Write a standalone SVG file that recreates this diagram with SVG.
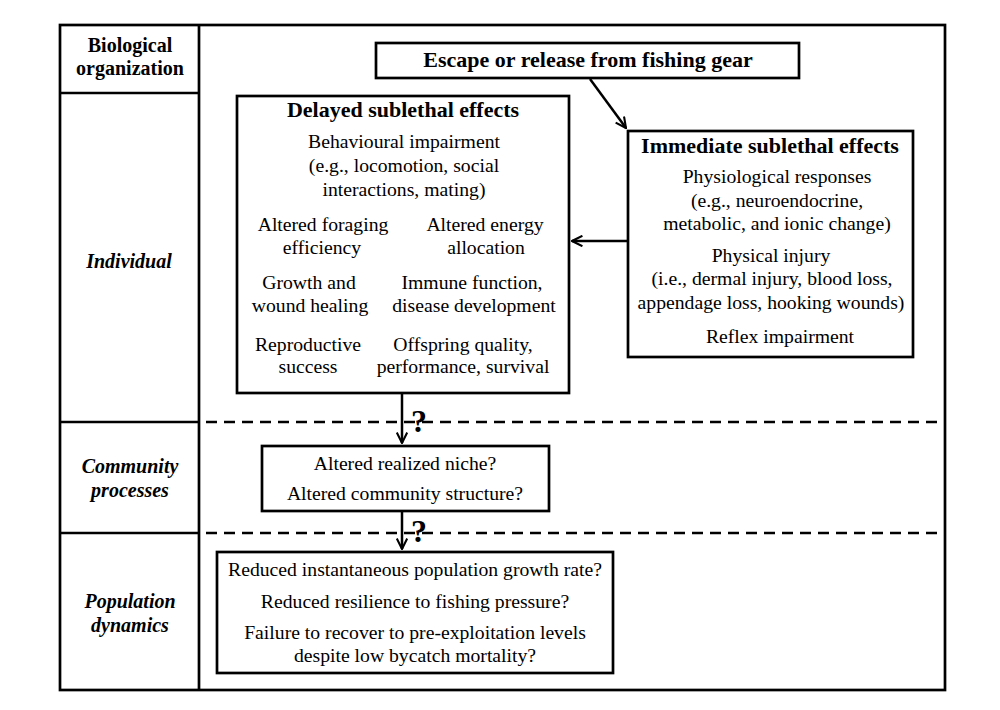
<svg xmlns="http://www.w3.org/2000/svg" width="1000" height="710" viewBox="0 0 1000 710">
<defs>
<style>
text{font-family:"Liberation Serif","Times New Roman",serif;fill:#000;text-anchor:middle}
.b{font-size:19.7px}
.t{font-size:22px;font-weight:bold}
.lab{font-size:20px;font-weight:bold}
.it{font-style:italic}
.q{font-size:32px;font-weight:bold;text-anchor:start}
.box{fill:#fff;stroke:#000;stroke-width:2.7}
.ln{stroke:#000;stroke-width:2.7;fill:none}
.dash{stroke:#000;stroke-width:2.7;stroke-dasharray:11 7;fill:none}
.arr{stroke:#000;stroke-width:2.5;fill:none;marker-end:url(#ah)}
</style>
<marker id="ah" viewBox="0 0 12 12" refX="11" refY="6" markerWidth="5" markerHeight="5" orient="auto" markerUnits="strokeWidth">
<path d="M1,1 L11,6 L1,11" fill="none" stroke="#000" stroke-width="2"/>
</marker>
</defs>
<rect width="1000" height="710" fill="#fff"/>
<g id="frame">
<rect x="60" y="25" width="885" height="665" class="ln"/>
<line x1="199" y1="25" x2="199" y2="690" class="ln"/>
<line x1="60" y1="93" x2="199" y2="93" class="ln"/>
<line x1="60" y1="422" x2="199" y2="422" class="ln"/>
<line x1="60" y1="533" x2="199" y2="533" class="ln"/>
<line x1="206" y1="422" x2="945" y2="422" class="dash"/>
<line x1="206" y1="533" x2="945" y2="533" class="dash"/>
</g>
<g id="labels">
<text class="lab" x="130" y="52">Biological</text>
<text class="lab" x="130" y="75">organization</text>
<text class="lab it" x="129" y="268">Individual</text>
<text class="lab it" x="130" y="473">Community</text>
<text class="lab it" x="130" y="497">processes</text>
<text class="lab it" x="130" y="608">Population</text>
<text class="lab it" x="130" y="632">dynamics</text>
</g>
<g id="connectors">
<line x1="590" y1="79" x2="626" y2="128" class="arr"/>
<line x1="628" y1="241" x2="572" y2="241" class="arr"/>
<line x1="402" y1="393" x2="402" y2="443" class="arr"/>
<line x1="402" y1="511" x2="402" y2="549" class="arr"/>
<text class="q" x="411" y="432">?</text>
<text class="q" x="411" y="542">?</text>
</g>
<g id="escape">
<rect x="376" y="43" width="423" height="35" class="box"/>
<text class="t" x="588" y="67">Escape or release from fishing gear</text>
</g>
<g id="delayed">
<rect x="237" y="96" width="332" height="297" class="box"/>
<text class="t" x="403" y="117">Delayed sublethal effects</text>
<text class="b" x="404" y="148">Behavioural impairment</text>
<text class="b" x="404" y="172">(e.g., locomotion, social</text>
<text class="b" x="404" y="196">interactions, mating)</text>
<text class="b" x="323" y="231">Altered foraging</text>
<text class="b" x="322" y="254">efficiency</text>
<text class="b" x="485" y="231">Altered energy</text>
<text class="b" x="486" y="254">allocation</text>
<text class="b" x="309" y="289">Growth and</text>
<text class="b" x="310" y="312">wound healing</text>
<text class="b" x="472" y="289">Immune function,</text>
<text class="b" x="474" y="312">disease development</text>
<text class="b" x="308" y="351">Reproductive</text>
<text class="b" x="308" y="373">success</text>
<text class="b" x="463" y="351">Offspring quality,</text>
<text class="b" x="463" y="373">performance, survival</text>
</g>
<g id="immediate">
<rect x="628" y="131" width="285" height="226" class="box"/>
<text class="t" x="770" y="153">Immediate sublethal effects</text>
<text class="b" x="777" y="183">Physiological responses</text>
<text class="b" x="777" y="207">(e.g., neuroendocrine,</text>
<text class="b" x="777" y="230">metabolic, and ionic change)</text>
<text class="b" x="771" y="262">Physical injury</text>
<text class="b" x="772" y="285">(i.e., dermal injury, blood loss,</text>
<text class="b" x="771" y="309">appendage loss, hooking wounds)</text>
<text class="b" x="780" y="343">Reflex impairment</text>
</g>
<g id="community">
<rect x="262" y="446" width="287" height="65" class="box"/>
<text class="b" x="405" y="470">Altered realized niche?</text>
<text class="b" x="405" y="500">Altered community structure?</text>
</g>
<g id="population">
<rect x="217" y="552" width="396" height="121" class="box"/>
<text class="b" x="415" y="576">Reduced instantaneous population growth rate?</text>
<text class="b" x="415" y="608">Reduced resilience to fishing pressure?</text>
<text class="b" x="415" y="639">Failure to recover to pre-exploitation levels</text>
<text class="b" x="415" y="662">despite low bycatch mortality?</text>
</g>
</svg>
